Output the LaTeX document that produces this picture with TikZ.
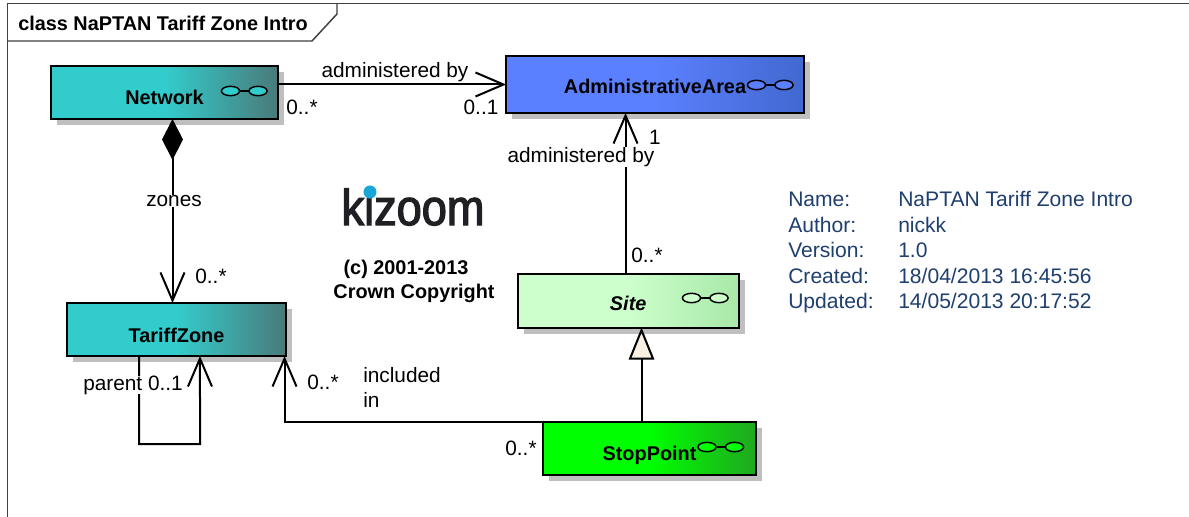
\documentclass[tikz,border=0pt]{standalone}
\usepackage{fontspec}
\setmainfont{Liberation Sans}
\newfontfamily\logofont[FakeStretch=0.89,FakeBold=2.5]{Liberation Sans}
\usetikzlibrary{arrows.meta,shadows,calc}
\definecolor{cyanbox}{HTML}{33CCCC}
\definecolor{cyanend}{HTML}{4A7A7A}
\definecolor{bluebox}{HTML}{5B80FF}
\definecolor{blueend}{HTML}{4268D0}
\definecolor{sitebox}{HTML}{CCFFCC}
\definecolor{siteend}{HTML}{A8E8A8}
\definecolor{stopbox}{HTML}{00FF00}
\definecolor{stopend}{HTML}{20A820}
\definecolor{metablue}{HTML}{1F3F6F}
\definecolor{inhfill}{HTML}{F8F0E2}
\definecolor{logoblack}{HTML}{202024}
\definecolor{logoblue}{HTML}{1AA7D8}
\tikzset{
    classbox/.style={draw=black, line width=1.5pt, inner sep=0pt, outer sep=0pt, font=\fontsize{14.9}{18}\selectfont\bfseries,
        drop shadow={shadow xshift=4.5pt, shadow yshift=-4.5pt, fill=black!25, opacity=1}},
    assoc/.style={line width=1.5pt, -{Straight Barb[length=21pt,width=18pt]}},
    plainlabel/.style={font=\fontsize{15.6}{18}\selectfont, inner sep=0pt},
    gaplabel/.style={plainlabel, fill=white},
    boldlabel/.style={font=\fontsize{14.9}{18}\selectfont\bfseries, inner sep=0pt},
    metalabel/.style={font=\fontsize{15.8}{18}\selectfont, text=metablue, inner sep=0pt, anchor=base west},
    icon/.style={draw=black, line width=1.1pt}
}
\newcommand{\lollipop}[3]{
    \draw[icon] (#1-18,#2) -- (#1,#2);
    \draw[icon, fill=#3] (#1-27.5,#2) ellipse (6.8pt and 3.5pt);
    \draw[icon, fill=#3] (#1,#2) ellipse (6.8pt and 3.5pt);
}
\begin{document}
\begin{tikzpicture}[x=0.75pt,y=-0.75pt]
    \path[fill=white, use as bounding box] (0,0) rectangle (1189,517);
    % frame
    \draw[line width=1.1pt, black!75] (1189,3.5) -- (7.5,3.5) -- (7.5,517);
    \draw[line width=1.1pt, black!75] (7.5,41) -- (312,41) -- (337,14) -- (337,3.5);
    \node[boldlabel, anchor=west] (title) at (18,23.5) {class NaPTAN Tariff Zone Intro};
    % classes
    \node[classbox, minimum width=170.25pt, minimum height=39.75pt, left color=cyanbox, right color=cyanend, middle color=cyanbox] (network) at (164.5,92.5) {\raisebox{-9.3pt}[0pt][0pt]{Network}};
    \node[classbox, minimum width=164.25pt, minimum height=39.75pt, left color=cyanbox, right color=cyanend, middle color=cyanbox] (tariffzone) at (176.5,329.5) {\raisebox{-9.4pt}[0pt][0pt]{TariffZone}};
    \node[classbox, minimum width=223.5pt, minimum height=42.75pt, left color=bluebox, right color=blueend, middle color=bluebox] (adminarea) at (655,84.5) {\raisebox{-7pt}[0pt][0pt]{AdministrativeArea}};
    \node[classbox, minimum width=165.75pt, minimum height=40.5pt, left color=sitebox, right color=siteend, middle color=sitebox] (site) at (628.2,300.5) {\raisebox{-7.5pt}[0pt][0pt]{\itshape Site}};
    \node[classbox, minimum width=159.75pt, minimum height=39.75pt, left color=stopbox, right color=stopend, middle color=stopbox] (stoppoint) at (649.5,448.5) {\raisebox{-9.3pt}[0pt][0pt]{StopPoint}};
    \lollipop{258}{91}{cyanbox}
    \lollipop{784}{85}{bluebox}
    \lollipop{719}{298}{sitebox}
    \lollipop{734.5}{447}{stopbox}
    % connectors
    \draw[assoc] (network.east |- adminarea.west) -- (adminarea.west);
    \draw[assoc, {Diamond[length=30.75pt,width=15.75pt]}-{Straight Barb[length=21pt,width=18pt]}] ([xshift=6pt]network.south) -- ([xshift=-3pt]tariffzone.north);
    \draw[assoc] ([xshift=-2pt]site.north) -- ([xshift=-2pt]site.north |- adminarea.south);
    \draw[assoc] ([xshift=-28.1pt]tariffzone.south) -- ++(0,88) -- ++(61,0) -- ([xshift=17.6pt]tariffzone.south);
    \draw[assoc] (stoppoint.north west) -| ([xshift=-1.1pt]tariffzone.south east);
    \draw[line width=1.5pt, -{Triangle[length=24pt,width=19pt,fill=inhfill]}] ([xshift=-6pt]stoppoint.north) -- ([xshift=-6pt]stoppoint.north |- site.south);
    % labels
    \node[plainlabel] (adminlabel) at (395,72.5) {administered by};
    \node[plainlabel] (netmult) at (302,107) {0..*};
    \node[plainlabel] (areamult) at (481,107) {0..1};
    \node[gaplabel] (sitelabel) at (581,157) {administered by};
    \node[plainlabel] (areaone) at (655,137) {1};
    \node[plainlabel] (sitemult) at (647,255) {0..*};
    \node[gaplabel] (zoneslabel) at (174,201) {zones};
    \node[plainlabel] (zonemult) at (211,276) {0..*};
    \node[gaplabel] (parentlabel) at (133,385) {parent 0..1};
    \node[plainlabel] (tariffmult) at (323,382) {0..*};
    \node[plainlabel, anchor=west, align=left, font=\fontsize{15.6}{18.75}\selectfont] (includedlabel) at (363,387) {included\\in};
    \node[plainlabel] (stopmult) at (521,448) {0..*};
    % logo
    \node[inner sep=0pt, text=logoblack, font=\fontsize{38}{38}\logofont] (logo) at (413,207) {kizoom};
    \fill[logoblue] (370,192) circle (4.9pt);
    \node[boldlabel] (yearlabel) at (406,269) {(c) 2001-2013};
    \node[boldlabel] (crownlabel) at (414,293.5) {Crown Copyright};
    % model details
    \node[metalabel] (namekey) at (788,206) {Name:};
    \node[metalabel] (authorkey) at (788,232) {Author:};
    \node[metalabel] (versionkey) at (788,257) {Version:};
    \node[metalabel] (createdkey) at (788,283) {Created:};
    \node[metalabel] (updatedkey) at (788,308) {Updated:};
    \node[metalabel] (nameval) at (898,206) {NaPTAN Tariff Zone Intro};
    \node[metalabel] (authorval) at (898,232) {nickk};
    \node[metalabel] (versionval) at (898,257) {1.0};
    \node[metalabel] (createdval) at (898,283) {18/04/2013 16:45:56};
    \node[metalabel] (updatedval) at (898,308) {14/05/2013 20:17:52};
\end{tikzpicture}
\end{document}
